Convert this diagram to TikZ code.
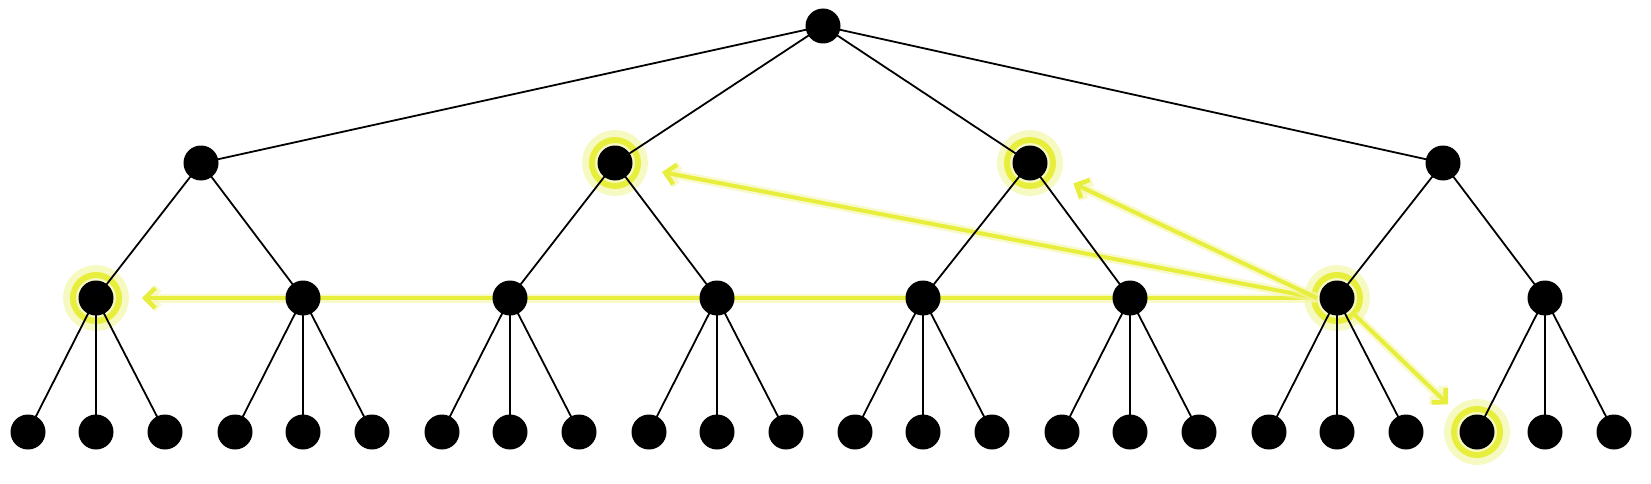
\documentclass[tikz,border=0pt]{standalone}
\usetikzlibrary{arrows.meta,backgrounds}
\definecolor{glow}{RGB}{232,238,60}
\definecolor{glowsoft}{RGB}{244,246,170}
\tikzset{
  x=1pt, y=-1pt,
  dot/.style={circle, fill=black, inner sep=0pt, minimum size=35pt},
  edge/.style={draw=black, line width=1.8pt},
  yarrow/.style={draw=glow, line width=4pt,
    -{Straight Barb[length=10pt,width=20pt,line width=4.5pt]},
    preaction={draw=glowsoft, line width=9pt, opacity=0.6, -{Straight Barb[length=10pt,width=20pt,line width=9pt]}}},
  ringsoft/.style={draw=glowsoft, line width=16pt, opacity=0.7},
  ringhard/.style={draw=glow, line width=6pt},
}
\begin{document}
\begin{tikzpicture}
\useasboundingbox (0,0) rectangle (1651,484);
% nodes
\node[dot] (r) at (823,26) {};
\foreach \n/\x in {a/201,b/615,c/1030,d/1443}
  \node[dot] (\n) at (\x,163) {};
\foreach \i/\x in {1/96,2/303,3/510,4/717,5/923,6/1130,7/1337,8/1545}{
  \node[dot] (m\i) at (\x,298) {};
  \foreach \j/\o in {1/-68,2/0,3/69}
    \node[dot] (l\i\j) at ([xshift=\o pt, yshift=-134pt]m\i.center) {};
}
\begin{scope}[on background layer]
  % glow rings
  \foreach \n in {b,c,m1,m7,l81}{
    \draw[ringsoft] (\n.center) circle (25);
    \draw[ringhard] (\n.center) circle (23);
  }
  % yellow arrows
  \coordinate (s) at ([xshift=-20pt]m7.center);
  \draw[yarrow, shorten >=46pt] (s) -- (m1.center);
  \draw[yarrow, shorten >=48pt] (s) -- (b.center);
  \draw[yarrow, shorten >=48pt] (s) -- (c.center);
  \draw[yarrow, shorten <=24pt, shorten >=40pt] (m7.center) -- (l81.center);
  % tree edges
  \foreach \n in {a,b,c,d} \draw[edge] (r.center) -- (\n.center);
  \draw[edge] (a.center) -- (m1.center); \draw[edge] (a.center) -- (m2.center);
  \draw[edge] (b.center) -- (m3.center); \draw[edge] (b.center) -- (m4.center);
  \draw[edge] (c.center) -- (m5.center); \draw[edge] (c.center) -- (m6.center);
  \draw[edge] (d.center) -- (m7.center); \draw[edge] (d.center) -- (m8.center);
  \foreach \i in {1,...,8}
    \foreach \j in {1,2,3}
      \draw[edge] (m\i.center) -- (l\i\j.center);
\end{scope}
\end{tikzpicture}
\end{document}
